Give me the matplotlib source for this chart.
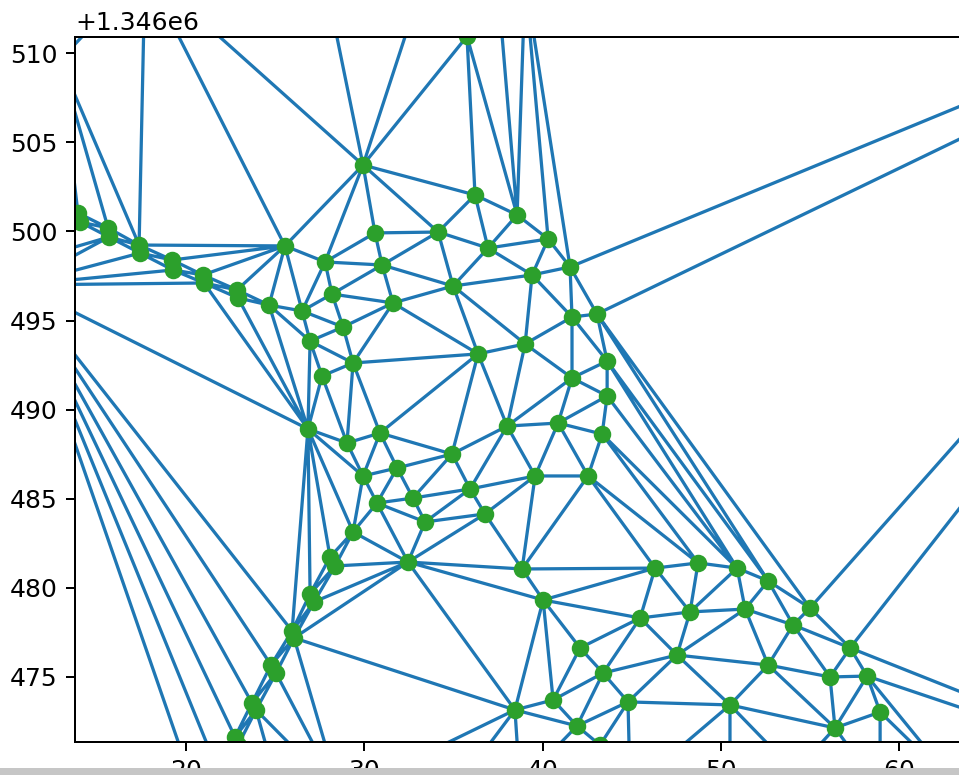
import matplotlib
matplotlib.use("Agg")
import matplotlib.pyplot as plt
import matplotlib.tri as mtri
from matplotlib.patches import Rectangle

Y0 = 1346000

# road points, upper branch (x, y - 1.346e6)
road_up_x = [12.26, 13.94, 14.06, 15.63, 15.68, 17.37, 17.42, 19.22, 19.27, 20.95, 21.01,
             22.86, 22.92, 24.66, 26.51]
road_up_y = [501.82, 501.04, 500.53, 500.20, 499.69, 499.24, 498.79, 498.40, 497.84, 497.56, 497.11,
             496.72, 496.27, 495.87, 495.54]

# road points, lower branch
road_lo_x = [28.08, 28.36, 26.96, 27.18, 25.95, 26.06, 24.77, 25.05, 23.70, 23.93, 22.75, 22.92,
             21.80, 21.96, 20.79, 20.95]
road_lo_y = [481.73, 481.23, 479.66, 479.21, 477.58, 477.19, 475.67, 475.22, 473.54, 473.15,
             471.63, 471.18, 469.72, 469.27, 467.81, 467.36]

# scattered points
pts_x = [25.55, 27.80, 28.19, 26.96, 27.63, 26.84, 28.81, 29.37, 29.93, 30.60,
         31.00, 31.61, 34.14, 34.98, 35.76, 36.21, 36.94, 38.57, 40.31, 39.41,
         41.54, 41.65, 43.05, 39.02, 36.38, 43.62, 41.65, 43.62, 38.01, 40.87,
         43.34, 30.88, 29.03, 34.92, 31.84, 29.93, 39.58, 42.55, 35.93, 30.71,
         32.73, 36.77, 33.41, 29.37, 32.45, 38.85, 40.03, 45.47, 46.31, 48.72,
         50.91, 52.65, 55.00, 48.27, 51.36, 54.05, 57.25, 47.54, 52.65, 56.12,
         58.20, 50.51, 58.93, 56.40, 42.10, 43.39, 40.59, 44.79, 38.45, 41.93,
         43.22]
pts_y = [499.19, 498.29, 496.49, 493.85, 491.89, 488.92, 494.64, 492.62, 503.73, 499.92,
         498.12, 495.99, 499.97, 496.94, 510.95, 502.05, 499.07, 500.93, 499.58, 497.56,
         498.01, 495.20, 495.37, 493.69, 493.13, 492.73, 491.78, 490.77, 489.08, 489.25,
         488.63, 488.69, 488.13, 487.51, 486.73, 486.28, 486.28, 486.28, 485.55, 484.76,
         485.04, 484.15, 483.70, 483.14, 481.45, 481.06, 479.32, 478.31, 481.11, 481.40,
         481.11, 480.39, 478.87, 478.65, 478.81, 477.92, 476.63, 476.23, 475.67, 475.00,
         475.05, 473.43, 473.03, 472.14, 476.63, 475.22, 473.71, 473.60, 473.15, 472.25,
         471.18]

# points outside the shown window: left, top, right, bottom
out_x = [10.69, 10.69,
         17.70, 12.93, 26.90, 32.96, 37.56, 39.02, 39.86, 40.31,
         89.44, 78.00, 79.12,
         25.27, 28.64, 33.41, 38.73, 44.91, 50.51, 54.16, 58.93, 63.41]
out_y = [497.00, 498.23,
         514.67, 509.62, 518.60, 512.99, 512.99, 514.11, 518.60, 524.21,
         517.76, 468.38, 466.41,
         468.38, 468.38, 466.41, 468.94, 468.66, 468.66, 469.67, 468.66, 468.66]

x = road_up_x + road_lo_x + pts_x + out_x
y = [v + Y0 for v in road_up_y + road_lo_y + pts_y + out_y]

tri = mtri.Triangulation(x, y)

fig = plt.figure(figsize=(959 / 180, 775 / 180), dpi=180)
ax = fig.add_axes([75 / 959, 33 / 775, 1025 / 959, 705 / 775])
ax.triplot(tri, color='C0', lw=1.3)
ax.plot(x, y, 'o', color='C2')
ax.set_xlim(13.775, 13.775 + 1025 / 17.83)
ax.set_ylim(Y0 + 471.35, Y0 + 510.915)
ax.yaxis.set_major_locator(matplotlib.ticker.MultipleLocator(5))

# grey strip of the screenshot at the bottom
fig.patches.append(Rectangle((0, 0), 1, 7.5 / 775, transform=fig.transFigure,
                             facecolor='#c6c6c6', edgecolor='none', zorder=10))

fig.savefig('out.png', dpi=180)
